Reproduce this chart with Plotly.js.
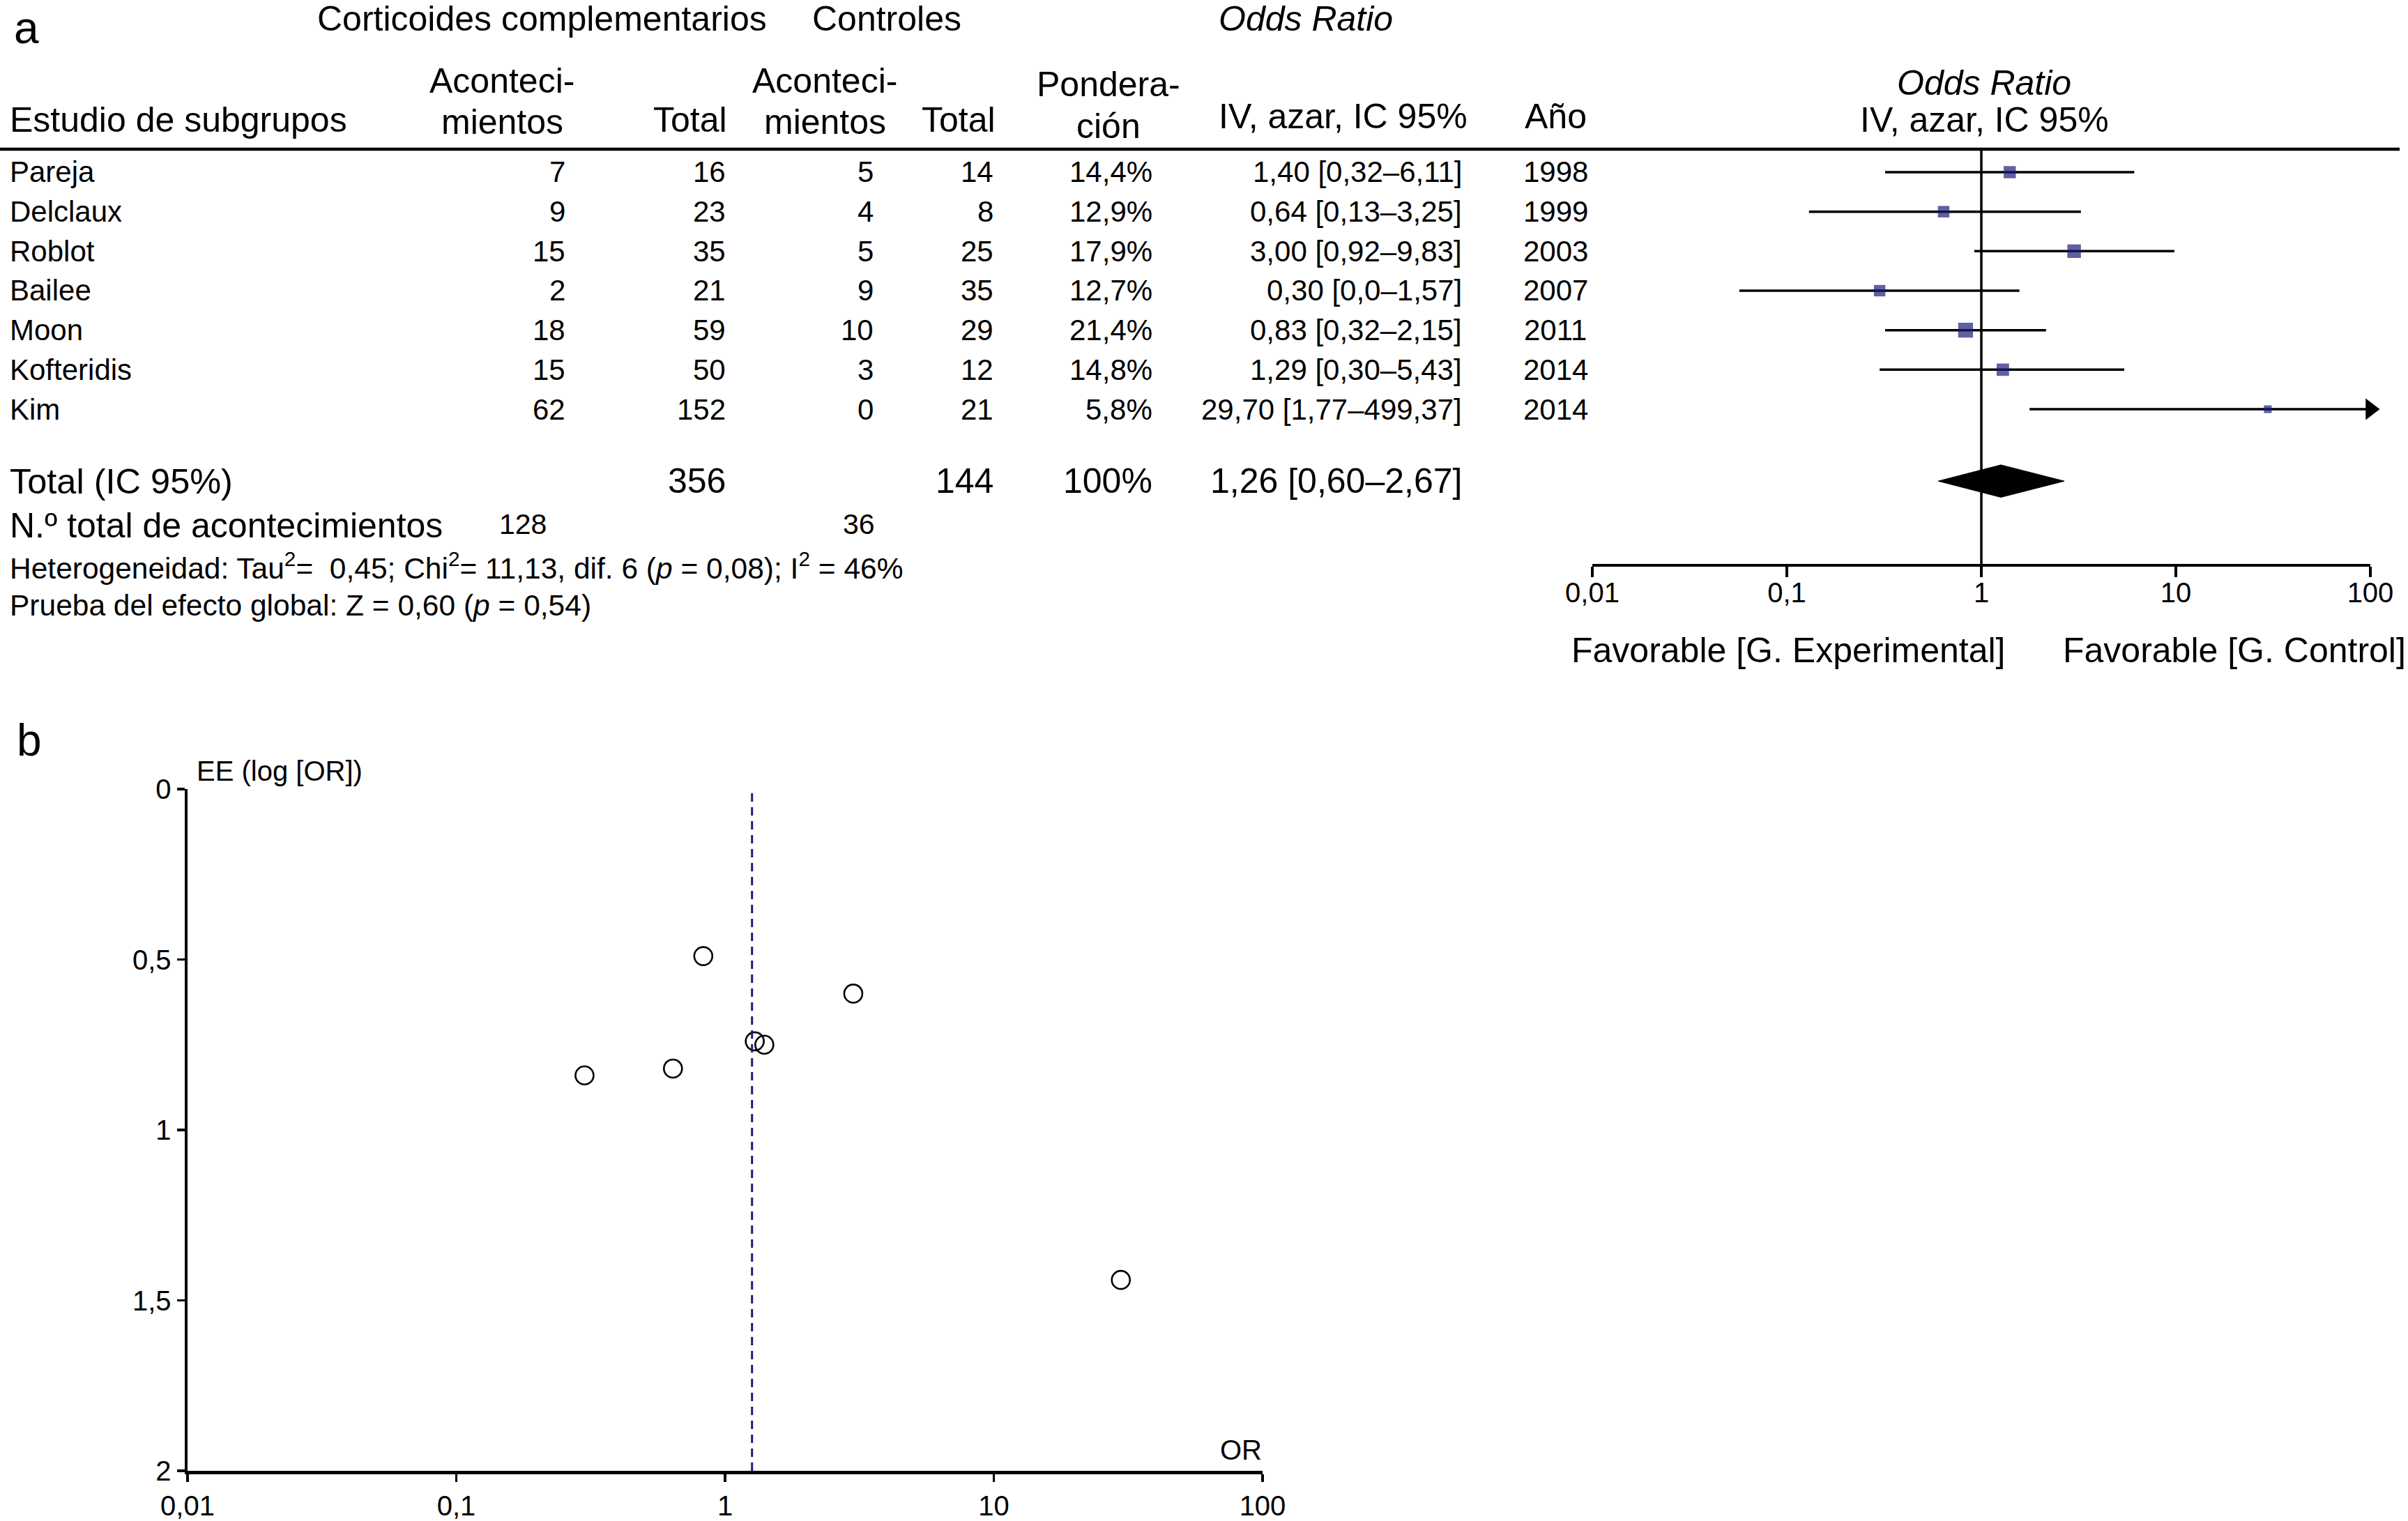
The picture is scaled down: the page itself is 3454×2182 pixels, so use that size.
<!DOCTYPE html>
<html>
<head>
<meta charset="utf-8">
<script src="https://cdn.plot.ly/plotly-3.0.1.min.js"></script>
<style>
html,body{margin:0;padding:0;background:#fff;}
#chart{width:3454px;height:2182px;}
</style>
</head>
<body>
<div id="chart"></div>
<script>
// ---------------- DATA ----------------
const studies     = ['Pareja','Delclaux','Roblot','Bailee','Moon','Kofteridis','Kim'];
const expEvents   = [7, 9, 15, 2, 18, 15, 62];
const expTotal    = [16, 23, 35, 21, 59, 50, 152];
const ctrlEvents  = [5, 4, 5, 9, 10, 3, 0];
const ctrlTotal   = [14, 8, 25, 35, 29, 12, 21];
const weights     = [14.4, 12.9, 17.9, 12.7, 21.4, 14.8, 5.8];
const orVals      = [1.40, 0.64, 3.00, 0.30, 0.83, 1.29, 29.70];
const ciLow       = [0.32, 0.13, 0.92, 0.057, 0.32, 0.30, 1.77];
const ciHigh      = [6.11, 3.25, 9.83, 1.57, 2.15, 5.43, 499.37];
const ciLabels    = ['1,40 [0,32–6,11]','0,64 [0,13–3,25]','3,00 [0,92–9,83]','0,30 [0,0–1,57]',
                     '0,83 [0,32–2,15]','1,29 [0,30–5,43]','29,70 [1,77–499,37]'];
const years       = [1998, 1999, 2003, 2007, 2011, 2014, 2014];
const seLogOR     = [0.75, 0.82, 0.60, 0.84, 0.49, 0.74, 1.44];

const totalExp = 356, totalCtrl = 144, totalWeight = '100%';
const totalEvExp = 128, totalEvCtrl = 36;
const pooledOR = 1.26, pooledLow = 0.60, pooledHigh = 2.67;
const pooledLabel = '1,26 [0,60–2,67]';

const orTickVals = [0.01, 0.1, 1, 10, 100];
const orTickText = ['0,01', '0,1', '1', '10', '100'];
const seTickVals = [0, 0.5, 1, 1.5, 2];
const seTickText = ['0', '0,5', '1', '1,5', '2'];

// ---------------- LAYOUT HELPERS ----------------
const W = 3454, H = 2182;
const px = X => X / W;
const py = Y => 1 - Y / H;
const FONT = 'Liberation Sans, Arial, Helvetica, sans-serif';
const NAVY = '#1d1d78';
const rowIdx = studies.map((_, i) => i);
const totalRow = 7.82;
const xMaxLog = 2, xMinLog = -2;

function ann(text, X, Y, size, xanchor, extra) {
  return Object.assign({
    text: text, x: px(X), y: py(Y), xref: 'paper', yref: 'paper',
    showarrow: false, xanchor: xanchor || 'left', yanchor: 'middle',
    font: { family: FONT, size: size, color: '#000' }
  }, extra || {});
}
function rowAnn(text, X, row, size, xanchor) {
  return {
    text: text, x: px(X), y: row, xref: 'paper', yref: 'y',
    showarrow: false, xanchor: xanchor, yanchor: 'middle',
    font: { family: FONT, size: size, color: '#000' }
  };
}
const fmt1 = v => v.toFixed(1).replace('.', ',') + '%';

// ---------------- TRACES ----------------
const forest = {
  type: 'scatter', mode: 'markers', xaxis: 'x', yaxis: 'y',
  x: orVals, y: rowIdx,
  marker: { symbol: 'square', color: NAVY, size: weights.map(w => 4.6 * Math.sqrt(w)), line: { width: 0 } },
  error_x: {
    type: 'data', symmetric: false,
    array: ciHigh.map((h, i) => h - orVals[i]),
    arrayminus: ciLow.map((l, i) => orVals[i] - l),
    color: '#000', thickness: 3.5, width: 0
  },
  hoverinfo: 'skip', showlegend: false
};

const overIdx = rowIdx.filter(i => ciHigh[i] > Math.pow(10, xMaxLog));
const arrows = {
  type: 'scatter', mode: 'markers', xaxis: 'x', yaxis: 'y',
  x: overIdx.map(() => Math.pow(10, xMaxLog)), y: overIdx,
  marker: { symbol: 'triangle-right', color: '#000', size: 27 },
  cliponaxis: false, hoverinfo: 'skip', showlegend: false
};

const dh = 0.41;
const diamond = {
  type: 'scatter', mode: 'lines', xaxis: 'x', yaxis: 'y',
  x: [pooledLow, pooledOR, pooledHigh, pooledOR, pooledLow],
  y: [totalRow, totalRow - dh, totalRow, totalRow + dh, totalRow],
  fill: 'toself', fillcolor: '#000', line: { color: '#000', width: 1 },
  hoverinfo: 'skip', showlegend: false
};

const funnel = {
  type: 'scatter', mode: 'markers', xaxis: 'x2', yaxis: 'y2',
  x: orVals, y: seLogOR,
  marker: { symbol: 'circle-open', size: 26, color: '#000', line: { width: 2.6, color: '#000' } },
  hoverinfo: 'skip', showlegend: false
};

// ---------------- ANNOTATIONS ----------------
const annotations = [];
annotations.push(ann('a', 18, 40, 64, 'left'));
annotations.push(ann('b', 22, 1062, 64, 'left'));

annotations.push(ann('Corticoides complementarios', 777, 27, 50, 'center'));
annotations.push(ann('Controles', 1272, 27, 50, 'center'));
annotations.push(ann('<i>Odds Ratio</i>', 1873, 27, 50, 'center'));

annotations.push(ann('Estudio de subgrupos', 12, 172, 50, 'left'));
annotations.push(ann('Aconteci-', 720, 116, 50, 'center'));
annotations.push(ann('mientos', 720, 175, 50, 'center'));
annotations.push(ann('Total', 1045, 172, 50, 'right'));
annotations.push(ann('Aconteci-', 1183, 116, 50, 'center'));
annotations.push(ann('mientos', 1183, 175, 50, 'center'));
annotations.push(ann('Total', 1430, 172, 50, 'right'));
annotations.push(ann('Pondera-', 1590, 121, 50, 'center'));
annotations.push(ann('ción', 1590, 181, 50, 'center'));
annotations.push(ann('IV, azar, IC 95%', 2107, 167, 50, 'right'));
annotations.push(ann('Año', 2231, 167, 50, 'center'));
annotations.push(ann('<i>Odds Ratio</i>', 2846, 119, 50, 'center'));
annotations.push(ann('IV, azar, IC 95%', 2846, 172, 50, 'center'));

const RF = 42;
rowIdx.forEach(i => {
  annotations.push(rowAnn(studies[i], 12, i, RF, 'left'));
  annotations.push(rowAnn(String(expEvents[i]), 813, i, RF, 'right'));
  annotations.push(rowAnn(String(expTotal[i]), 1043, i, RF, 'right'));
  annotations.push(rowAnn(String(ctrlEvents[i]), 1255, i, RF, 'right'));
  annotations.push(rowAnn(String(ctrlTotal[i]), 1427, i, RF, 'right'));
  annotations.push(rowAnn(fmt1(weights[i]), 1655, i, RF, 'right'));
  annotations.push(rowAnn(ciLabels[i], 2099, i, RF, 'right'));
  annotations.push(rowAnn(String(years[i]), 2231, i, RF, 'center'));
});

annotations.push(rowAnn('Total (IC 95%)', 12, totalRow, 50.5, 'left'));
annotations.push(rowAnn(String(totalExp), 1043, totalRow, 50, 'right'));
annotations.push(rowAnn(String(totalCtrl), 1427, totalRow, 50, 'right'));
annotations.push(rowAnn(totalWeight, 1655, totalRow, 50, 'right'));
annotations.push(rowAnn(pooledLabel, 2099, totalRow, 50, 'right'));

annotations.push(ann('N.º total de acontecimientos', 12, 754, 50, 'left'));
annotations.push(ann(String(totalEvExp), 750, 752, 41, 'center'));
annotations.push(ann(String(totalEvCtrl), 1232, 752, 41, 'center'));
annotations.push(ann('Heterogeneidad: Tau<sup>2</sup>=  0,45; Chi<sup>2</sup>= 11,13, dif. 6 (<i>p</i> = 0,08); I<sup>2</sup> = 46%', 12, 812, 42.5, 'left'));
annotations.push(ann('Prueba del efecto global: Z = 0,60 (<i>p</i> = 0,54)', 12, 869, 42.5, 'left'));

annotations.push(ann('Favorable [G. Experimental]', 2565, 933, 50, 'center'));
annotations.push(ann('Favorable [G. Control]', 3205, 933, 50, 'center'));

annotations.push(ann('EE (log [OR])', 280, 1106, 40, 'left'));
annotations.push(ann('OR', 1812, 2080, 40, 'right'));

// ---------------- AXES ----------------
const tickFont = { family: FONT, size: 40, color: '#000' };
const layout = {
  width: W, height: H,
  margin: { l: 0, r: 0, t: 0, b: 0, pad: 0 },
  paper_bgcolor: '#fff', plot_bgcolor: 'rgba(0,0,0,0)',
  separators: ',.',
  showlegend: false,
  font: { family: FONT, color: '#000' },
  xaxis: {
    type: 'log', range: [xMinLog, xMaxLog], domain: [px(2284), px(3400)], anchor: 'y',
    tickvals: orTickVals, ticktext: orTickText, ticks: 'outside', ticklen: 15, tickwidth: 3.5, tickcolor: '#000',
    ticklabelstandoff: -12,
    showline: true, linewidth: 3.5, linecolor: '#000', showgrid: false, zeroline: false,
    tickfont: tickFont, fixedrange: true
  },
  xaxis3: {
    type: 'log', range: [xMinLog, xMaxLog], overlaying: 'x', anchor: 'y',
    tickvals: orTickVals, ticks: 'inside', ticklen: 15, tickwidth: 3.5, tickcolor: '#000',
    showticklabels: false, showline: false, showgrid: false, zeroline: false
  },
  yaxis: {
    range: [9.917, -0.582], domain: [py(809), py(214)], anchor: 'x',
    visible: false, showgrid: false, zeroline: false, fixedrange: true
  },
  xaxis2: {
    type: 'log', range: [xMinLog, xMaxLog], domain: [px(269), px(1811)], anchor: 'y2',
    tickvals: orTickVals, ticktext: orTickText, ticks: 'outside', ticklen: 11, tickwidth: 3.5, tickcolor: '#000',
    showline: true, linewidth: 4.5, linecolor: '#000', showgrid: false, zeroline: false,
    tickfont: tickFont
  },
  xaxis4: {
    type: 'log', range: [xMinLog, xMaxLog], overlaying: 'x2', anchor: 'y2',
    tickvals: orTickVals, ticks: 'inside', ticklen: 11, tickwidth: 3.5, tickcolor: '#000',
    showticklabels: false, showline: false, showgrid: false, zeroline: false
  },
  yaxis2: {
    range: [2, 0], domain: [py(2110), py(1132)], anchor: 'x2',
    tickvals: seTickVals, ticktext: seTickText, ticks: 'outside', ticklen: 11, tickwidth: 3.5, tickcolor: '#000',
    showline: true, linewidth: 4.5, linecolor: '#000', showgrid: false, zeroline: false,
    tickfont: tickFont
  },
  yaxis4: {
    range: [2, 0], overlaying: 'y2', anchor: 'x2',
    tickvals: seTickVals, ticks: 'inside', ticklen: 11, tickwidth: 3.5, tickcolor: '#000',
    showticklabels: false, showline: false, showgrid: false, zeroline: false
  },
  shapes: [
    { type: 'line', xref: 'paper', yref: 'paper', x0: 0, x1: px(3442), y0: py(214), y1: py(214),
      line: { color: '#000', width: 4.5 } },
    { type: 'line', xref: 'x', yref: 'y domain', x0: 1, x1: 1, y0: 0, y1: 1,
      line: { color: '#000', width: 3.5 } },
    { type: 'line', xref: 'x2', yref: 'y2 domain', x0: pooledOR, x1: pooledOR, y0: 0, y1: 1,
      line: { color: NAVY, width: 3, dash: '12px,8px' } }
  ],
  annotations: annotations
};

Plotly.newPlot('chart', [forest, arrows, diamond, funnel], layout, { staticPlot: true, displayModeBar: false });
</script>
</body>
</html>
